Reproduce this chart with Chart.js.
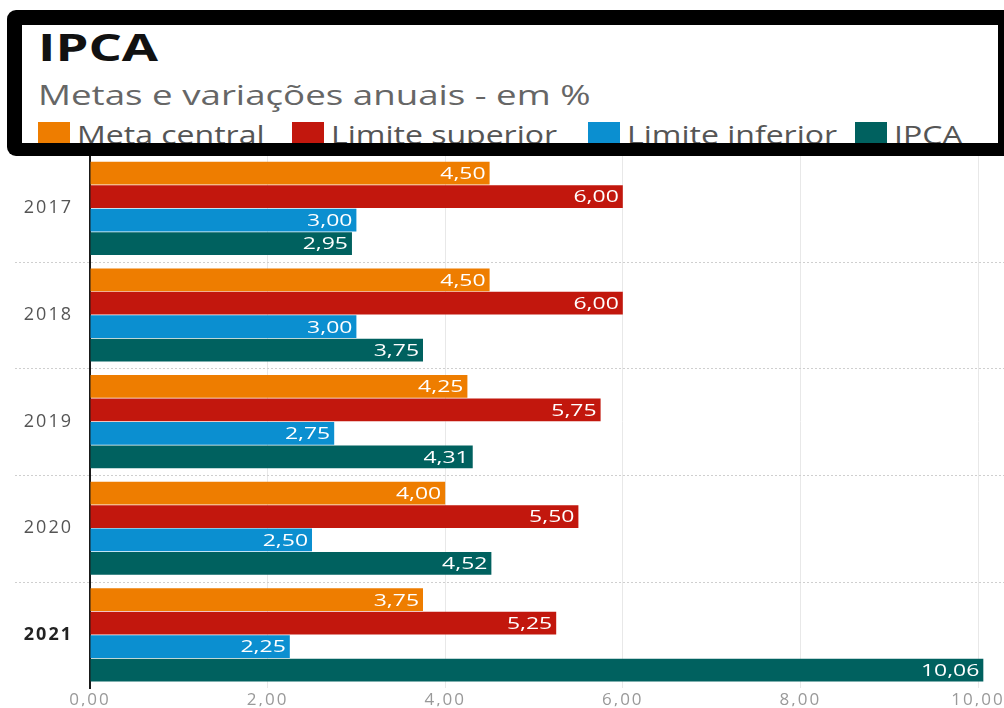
<!DOCTYPE html>
<html>
<head>
<meta charset="utf-8">
<script src="https://cdn.jsdelivr.net/npm/chart.js@4.4.0/dist/chart.umd.min.js"></script>
<style>
  body { margin: 0; background: #fff; font-family: "Open Sans", sans-serif; }
  #wrap { position: relative; width: 1004px; height: 708px; overflow: hidden; }
  #chart { position: absolute; left: 0; top: 0; }
  #frame { position: absolute; left: 7px; top: 10px; width: 1010px; height: 146px;
           background: #000; border-radius: 9px 0 0 9px; z-index: 2; }
  #inner { position: absolute; left: 15px; top: 15px; width: 976px; height: 118px;
           background: #fff; overflow: hidden; }
  #title { position: absolute; left: 16px; top: -4px; font-size: 37px; font-weight: 700; color: #111;
           transform: scaleX(1.42); transform-origin: left top; }
  #subtitle { position: absolute; left: 16px; top: 50px; font-size: 28px; color: #666;
              transform: scaleX(1.31); transform-origin: left top; }
  #legend { position: absolute; left: 0; top: 92px; width: 976px; height: 40px; }
  #legend .item { position: absolute; top: 0; white-space: nowrap; font-size: 25px; color: #555; }
  #legend .box { position: absolute; left: 0; top: 5px; width: 32px; height: 26px; }
  #legend .txt { position: absolute; left: 39px; top: 0; transform: scaleX(1.28); transform-origin: left top; }
</style>
</head>
<body>
<div id="wrap">
  <canvas id="chart" width="1004" height="708"></canvas>
  <div id="frame"><div id="inner">
    <div id="title">IPCA</div>
    <div id="subtitle">Metas e variações anuais - em %</div>
    <div id="legend"></div>
  </div></div>
</div>
<script>
const years = ['2017', '2018', '2019', '2020', '2021'];
const metaCentral = [4.50, 4.50, 4.25, 4.00, 3.75];
const limiteSuperior = [6.00, 6.00, 5.75, 5.50, 5.25];
const limiteInferior = [3.00, 3.00, 2.75, 2.50, 2.25];
const ipca = [2.95, 3.75, 4.31, 4.52, 10.06];
const seriesNames = ['Meta central', 'Limite superior', 'Limite inferior', 'IPCA'];
const seriesColors = ['#EE7D00', '#C2170D', '#0B8FD0', '#00615F'];
const xTicks = [0, 2, 4, 6, 8, 10];

const fmt = v => v.toFixed(2).replace('.', ',');

// legend in the header box (left offsets of each entry)
const legendLeft = [16, 270, 566, 833];
const legendEl = document.getElementById('legend');
seriesNames.forEach((name, i) => {
  const item = document.createElement('div');
  item.className = 'item';
  item.style.left = legendLeft[i] + 'px';
  item.innerHTML = '<span class="box" style="background:' + seriesColors[i] + '"></span>' +
                   '<span class="txt">' + name + '</span>';
  legendEl.appendChild(item);
});

// wider lettering for the axis labels, like the stretched original
const spacing = {
  id: 'spacing',
  beforeDraw(chart) { chart.ctx.letterSpacing = '2px'; }
};

// dotted separators between the years, across the full width
const separators = {
  id: 'separators',
  beforeDatasetsDraw(chart) {
    const y = chart.scales.y;
    const ctx = chart.ctx;
    const step = y.getPixelForValue(1) - y.getPixelForValue(0);
    ctx.save();
    ctx.strokeStyle = '#cfcfcf';
    ctx.lineWidth = 1;
    ctx.setLineDash([2, 2]);
    for (let i = 1; i < years.length; i++) {
      const py = Math.round(y.getPixelForValue(i) - step / 2) + 0.5;
      ctx.beginPath();
      ctx.moveTo(15, py);
      ctx.lineTo(1004, py);
      ctx.stroke();
    }
    ctx.restore();
  }
};

// white values at the end of each bar
const barValues = {
  id: 'barValues',
  afterDatasetsDraw(chart) {
    const ctx = chart.ctx;
    chart.data.datasets.forEach((ds, di) => {
      chart.getDatasetMeta(di).data.forEach((bar, i) => {
        ctx.save();
        ctx.letterSpacing = '0px';
        ctx.font = '17px "Open Sans"';
        ctx.fillStyle = '#fff';
        ctx.textAlign = 'right';
        ctx.textBaseline = 'middle';
        ctx.translate(bar.x - 4, bar.y + 1);
        ctx.scale(1.35, 1);
        ctx.fillText(fmt(ds.data[i]), 0, 0);
        ctx.restore();
      });
    });
  }
};

const seriesData = [metaCentral, limiteSuperior, limiteInferior, ipca];

new Chart(document.getElementById('chart'), {
  type: 'bar',
  data: {
    labels: years,
    datasets: seriesNames.map((name, i) => ({
      label: name,
      data: seriesData[i],
      backgroundColor: seriesColors[i],
      categoryPercentage: 0.88,
      barPercentage: 0.97,
      clip: false
    }))
  },
  options: {
    indexAxis: 'y',
    responsive: false,
    animation: false,
    layout: { autoPadding: false, padding: { top: 155, right: 26, bottom: -8, left: 0 } },
    plugins: { legend: { display: false }, tooltip: { enabled: false } },
    scales: {
      x: {
        min: 0,
        max: 10,
        afterBuildTicks: scale => { scale.ticks = xTicks.map(v => ({ value: v })); },
        afterFit: scale => { scale.height = 18; },
        grid: { color: '#e8e8e8', drawTicks: false },
        border: { display: false },
        ticks: {
          padding: 2,
          color: '#999',
          font: { family: 'Open Sans', size: 17 },
          callback: v => fmt(v)
        }
      },
      y: {
        afterFit: scale => { scale.width = 90; },
        grid: { display: false },
        border: { display: true, color: '#1a1a1a', width: 2 },
        ticks: {
          padding: 9,
          color: ctx => ctx.index === 4 ? '#222' : '#555',
          font: ctx => ({ family: 'Open Sans', size: 18, weight: ctx.index === 4 ? 'bold' : 'normal' })
        }
      }
    }
  },
  plugins: [spacing, separators, barValues]
});
</script>
</body>
</html>
